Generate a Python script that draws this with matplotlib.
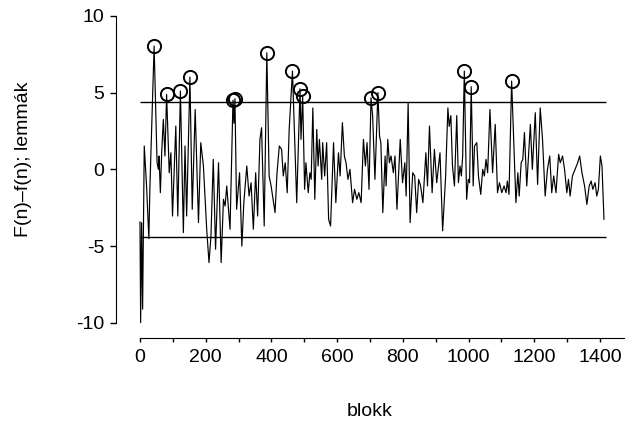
import matplotlib
matplotlib.use('Agg')
import matplotlib.pyplot as plt
from matplotlib.ticker import MultipleLocator

plt.rcParams['font.family'] = ['Liberation Sans', 'DejaVu Sans']

# blokk sorszám és F(n)-f(n) érték
blokk = [0, 2, 5, 8, 13, 20, 23, 27, 30, 43, 52, 56, 58, 62, 66, 71, 76, 81, 89, 94,
         99, 109, 115, 123, 132, 137, 142, 152, 159, 168, 178, 185, 193, 203, 210, 216,
         223, 230, 239, 247, 254, 259, 264, 274, 283, 286, 289, 294, 303, 310, 316, 325,
         332, 338, 345, 352, 358, 365, 370, 378, 386, 393, 399, 405, 411, 417, 424, 431,
         436, 442, 448, 454, 464, 477, 487, 490, 495, 501, 505, 512, 517, 521, 526, 532,
         538, 542, 546, 553, 556, 562, 568, 574, 580, 589, 596, 604, 609, 616, 622, 627,
         633, 639, 647, 653, 660, 666, 673, 680, 686, 691, 697, 703, 708, 715, 724, 729,
         733, 739, 746, 749, 754, 759, 764, 771, 776, 782, 792, 799, 806, 810, 816, 822,
         830, 836, 842, 848, 854, 861, 870, 875, 881, 889, 896, 903, 913, 921, 930, 937,
         941, 946, 951, 957, 964, 969, 974, 978, 982, 987, 994, 999, 1003, 1008, 1014,
         1018, 1025, 1030, 1037, 1043, 1048, 1053, 1058, 1065, 1073, 1081, 1088, 1094,
         1101, 1108, 1114, 1118, 1123, 1131, 1144, 1150, 1154, 1160, 1165, 1170, 1177,
         1188, 1194, 1203, 1210, 1218, 1225, 1233, 1240, 1247, 1253, 1259, 1266, 1274,
         1279, 1286, 1292, 1299, 1304, 1309, 1316, 1324, 1332, 1338, 1345, 1353, 1360,
         1367, 1373, 1378, 1385, 1390, 1395, 1401, 1406, 1412]
ertek = [-3.43, -9.98, -3.47, -9.1, 1.52, -1.08, -2.6, -4.51, -1.3, 8.03, 0.43, 0.0, 0.87,
         -1.52, 1.08, 3.25, 0.87, 4.88, -0.22, 1.08, -3.04, 2.82, -3.04, 5.1, -4.12, 1.52,
         -3.04, 6.01, -2.6, 3.9, -3.47, 1.74, 0.22, -3.9, -6.07, -4.34, 0.65, -5.2, 0.43,
         -6.07, -1.95, -2.39, -1.08, -3.9, 4.5, 3.0, 4.6, -2.6, -0.22, -5.0, -2.17, 0.22,
         -1.74, -0.87, -3.9, -0.22, -3.04, 1.95, 2.71, -3.69, 7.59, -0.43, -1.08, -1.95,
         -2.82, -0.22, 1.52, 1.3, -0.43, 0.43, -1.52, 2.6, 6.4, -2.17, 5.25, 1.95, 4.8,
         -1.3, 0.43, -1.52, -0.22, -0.65, 4.0, -1.95, 2.6, 0.22, 1.95, -0.65, 1.74, -0.43,
         1.74, -3.25, -3.69, 1.74, -2.17, 1.08, -0.43, 3.04, 0.87, 0.43, -0.65, 0.0, -2.17,
         -1.3, -1.95, -1.52, -2.17, 1.95, 0.22, 1.74, -1.3, 4.66, 3.47, -0.65, 5.0, 2.17,
         1.74, -2.82, 0.87, -1.08, 1.95, 0.43, 0.87, -0.22, 0.87, -2.6, 1.95, -0.87, 0.43,
         -1.74, 4.34, -3.47, -0.22, -0.43, -2.82, -0.65, -1.08, -2.17, 1.08, -1.08, 2.82,
         -1.52, 1.3, -0.87, 1.08, -4.0, -0.5, 4.0, 2.8, 3.5, 0.22, -1.08, 3.5, -0.87, 0.22,
         -0.43, 0.87, 6.4, -1.95, -0.65, -0.87, 5.38, -1.08, 1.52, 1.74, -0.43, -1.63, 0.0,
         -0.43, 0.65, -0.22, 3.9, -0.22, 2.93, -1.52, -0.87, -1.52, -1.08, -1.52, -0.76,
         -1.63, 5.75, -2.17, -0.22, -1.74, 0.43, 0.65, 2.4, -1.08, 2.93, 0.0, 3.69, -0.98,
         4.0, 1.95, -1.74, 0.0, 0.87, -1.52, -0.43, -1.52, 0.98, 0.43, 0.87, 0.0, -1.52,
         -0.65, -1.74, -0.43, 0.0, 0.43, 0.87, -0.22, -1.08, -2.28, -1.08, -0.76, -1.3,
         -0.87, -1.74, -1.3, 0.87, 0.22, -3.25]
kuszob = 4.4

# küszöb feletti csúcsok
csucs_x = []
csucs_y = []
for i in range(1, len(ertek) - 1):
    if ertek[i] > kuszob and ertek[i] >= ertek[i - 1] and ertek[i] >= ertek[i + 1]:
        csucs_x.append(blokk[i])
        csucs_y.append(ertek[i])

fig = plt.figure(figsize=(6.25, 4.22), dpi=100)
ax = fig.add_axes([116 / 625, 84 / 422, 509 / 625, 323 / 422])

ax.plot(blokk, ertek, color='black', lw=0.85)
ax.hlines([kuszob, -kuszob], 0, 1418, color='black', lw=1)
ax.plot(csucs_x, csucs_y, 'o', mfc='none', mec='black', ms=9.5, mew=1.4)

ax.set_xlim(-73, 1476)
ax.set_ylim(-10.98, 10.05)
ax.spines['top'].set_visible(False)
ax.spines['right'].set_visible(False)
ax.spines['left'].set_bounds(-10, 10)
ax.spines['bottom'].set_bounds(0, 1476)

ax.set_yticks([-10, -5, 0, 5, 10])
ax.set_yticklabels(['-10', '-5', '0', '5', '10'])
ax.xaxis.set_major_locator(MultipleLocator(200))
ax.xaxis.set_minor_locator(MultipleLocator(100))
ax.set_xticks(range(0, 1401, 200))
ax.tick_params(axis='y', length=4.5, width=1, labelsize=14, pad=4)
ax.tick_params(axis='x', which='both', length=3, width=1, labelsize=14, pad=5)

ax.set_xlabel('blokk', fontsize=14)
ax.xaxis.set_label_coords(0.499, -0.2)
ax.set_ylabel('F(n)–f(n); lemmák', fontsize=14)
ax.yaxis.set_label_coords(-0.165, 0.554)

plt.savefig('out.png', dpi=100)
